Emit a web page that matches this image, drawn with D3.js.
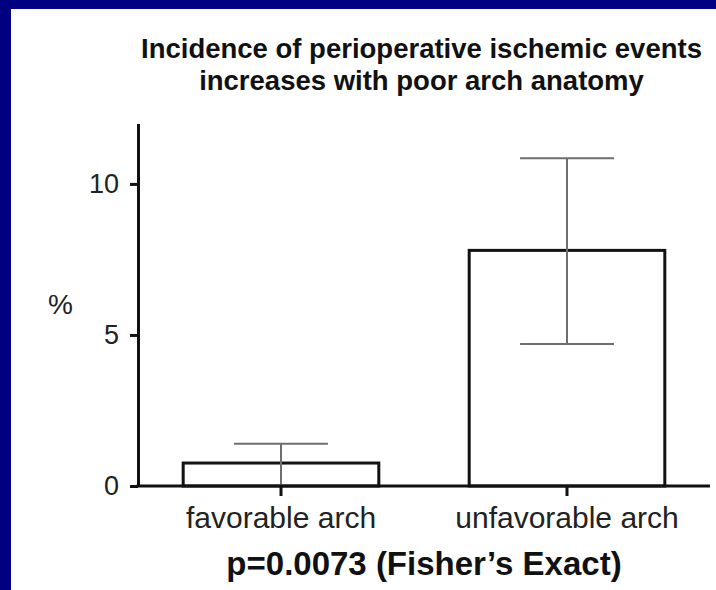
<!DOCTYPE html>
<html>
<head>
<meta charset="utf-8">
<script src="https://cdn.jsdelivr.net/npm/d3@7"></script>
<style>
  html, body { margin: 0; padding: 0; background: #000080; }
  svg { display: block; }
</style>
</head>
<body>
<script>
// Incidence of perioperative ischemic events by arch anatomy
const categories = ["favorable arch", "unfavorable arch"];
const incidence = [0.76, 7.8];     // %
const ciLower = [0.0, 4.7];        // %
const ciUpper = [1.4, 10.85];      // %
const yTicks = [0, 5, 10];
const titleLines = ["Incidence of perioperative ischemic events", "increases with poor arch anatomy"];
const yLabel = "%";
const footnote = "p=0.0073 (Fisher\u2019s Exact)";

const W = 716, H = 590;
const svg = d3.select("body").append("svg").attr("width", W).attr("height", H);

// navy frame with white panel
svg.append("rect").attr("width", W).attr("height", H).attr("fill", "#000080");
svg.append("rect").attr("x", 11).attr("y", 9).attr("width", W - 11).attr("height", H - 9).attr("fill", "#ffffff");

const font = "'Liberation Sans', Arial, Helvetica, sans-serif";
const ink = "#111";

const x = d3.scaleBand().domain(categories).range([138, 710]).paddingInner(0.316).paddingOuter(0.158);
const y = d3.scaleLinear().domain([0, 12]).range([486, 123.5]);

// title
svg.append("g").selectAll("text").data(titleLines).join("text")
  .attr("x", 421.5).attr("y", (d, i) => 58 + i * 32)
  .attr("text-anchor", "middle")
  .attr("font-family", font).attr("font-weight", "bold").attr("font-size", 27.5)
  .attr("fill", ink).text(d => d);

// error bars (drawn under the bars' outlines)
const eb = svg.append("g").attr("stroke", "#6e6e6e").attr("stroke-width", 2).attr("fill", "none");
const capHalf = x.bandwidth() * 0.24;
categories.forEach((c, i) => {
  const cx = x(c) + x.bandwidth() / 2;
  eb.append("line").attr("x1", cx).attr("x2", cx).attr("y1", y(ciLower[i])).attr("y2", y(ciUpper[i]));
  eb.append("line").attr("x1", cx - capHalf).attr("x2", cx + capHalf).attr("y1", y(ciUpper[i])).attr("y2", y(ciUpper[i]));
  eb.append("line").attr("x1", cx - capHalf).attr("x2", cx + capHalf).attr("y1", y(ciLower[i])).attr("y2", y(ciLower[i]));
});

// bars (open boxes)
svg.append("g").selectAll("rect").data(categories).join("rect")
  .attr("x", d => x(d)).attr("width", x.bandwidth())
  .attr("y", (d, i) => y(incidence[i])).attr("height", (d, i) => y(0) - y(incidence[i]))
  .attr("fill", "none").attr("stroke", ink).attr("stroke-width", 3);

// error bar stems passing through the boxes stay visible on top
categories.forEach((c, i) => {
  const cx = x(c) + x.bandwidth() / 2;
  svg.append("line").attr("x1", cx).attr("x2", cx)
    .attr("y1", y(Math.max(ciLower[i], 0))).attr("y2", y(ciUpper[i]))
    .attr("stroke", "#6e6e6e").attr("stroke-width", 2);
});

// y axis
const yAxis = svg.append("g").attr("transform", "translate(138,0)")
  .call(d3.axisLeft(y).tickValues(yTicks).tickSize(8).tickPadding(11).tickSizeOuter(0));
yAxis.select(".domain").attr("stroke", ink).attr("stroke-width", 3);
yAxis.selectAll(".tick line").attr("stroke", ink).attr("stroke-width", 3);
yAxis.selectAll(".tick text").attr("font-family", font).attr("font-size", 27).attr("fill", "#222");

// x axis
const xAxis = svg.append("g").attr("transform", `translate(0,${y(0)})`)
  .call(d3.axisBottom(x).tickSize(10).tickPadding(11).tickSizeOuter(0));
xAxis.select(".domain").attr("stroke", ink).attr("stroke-width", 3)
  .attr("d", "M136.5,0H710");
xAxis.selectAll(".tick line").attr("stroke", ink).attr("stroke-width", 3);
xAxis.selectAll(".tick text").attr("font-family", font).attr("font-size", 30).attr("fill", "#222");

// y label
svg.append("text").attr("x", 60.5).attr("y", 314)
  .attr("text-anchor", "middle").attr("font-family", font).attr("font-size", 28).attr("fill", "#222")
  .text(yLabel);

// footnote
svg.append("text").attr("x", 424).attr("y", 575)
  .attr("text-anchor", "middle").attr("font-family", font).attr("font-weight", "bold").attr("font-size", 33)
  .attr("fill", ink).text(footnote);
</script>
</body>
</html>
